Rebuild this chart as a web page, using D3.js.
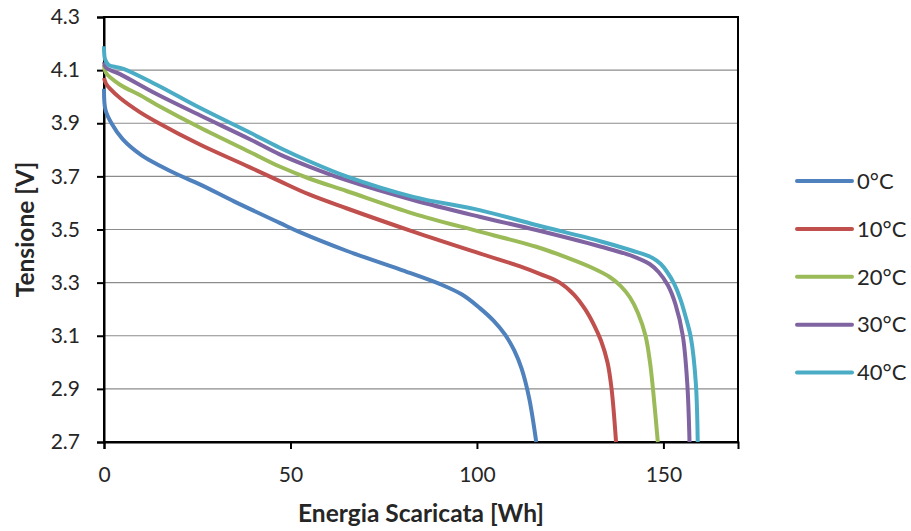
<!DOCTYPE html>
<html>
<head>
<meta charset="utf-8">
<script src="https://cdn.jsdelivr.net/npm/d3@7"></script>
<style>
  body { margin: 0; background: #fff; }
  svg { font-family: Lato, "Open Sans", sans-serif; }
</style>
</head>
<body>
<svg width="911" height="531"></svg>
<script>
// tick labels
const xTicks = [0, 50, 100, 150];
const yTicks = [2.7, 2.9, 3.1, 3.3, 3.5, 3.7, 3.9, 4.1, 4.3];

// series: [energy Wh, voltage V]
const names = ['0°C', '10°C', '20°C', '30°C', '40°C'];
const colors = ['#4f81bd', '#c0504d', '#9bbb59', '#8064a2', '#4bacc6'];

const t0 = [
  [0, 4.03], [0.4, 3.95], [2, 3.90], [5, 3.84], [10, 3.78], [15, 3.74],
  [20, 3.705], [25.7, 3.67], [35, 3.605], [47.1, 3.525], [52.5, 3.49],
  [65, 3.42], [79.3, 3.35], [90, 3.295], [96, 3.255], [100.7, 3.205],
  [104.5, 3.156], [107.5, 3.105], [110, 3.045], [112, 2.975], [114, 2.865],
  [115.9, 2.70],
];
const t10 = [
  [0, 4.07], [0.5, 4.05], [1.6, 4.03], [4.3, 3.995], [9.6, 3.942], [14.1, 3.905],
  [25.7, 3.82], [39, 3.735], [47.1, 3.682], [55, 3.632], [65, 3.58], [82.9, 3.492],
  [100.7, 3.41], [111.4, 3.362], [117, 3.332], [122.2, 3.30], [126, 3.255],
  [129, 3.20], [131.4, 3.14], [133.3, 3.08], [135, 3.0], [136.1, 2.90],
  [137.3, 2.70],
];
const t20 = [
  [0, 4.12], [0.5, 4.09], [4.3, 4.045], [9.6, 4.006], [14.1, 3.97], [25.7, 3.884],
  [39.1, 3.792], [47.1, 3.737], [55, 3.692], [65, 3.645], [82.9, 3.56],
  [100.7, 3.492], [115.9, 3.435], [124, 3.395], [131, 3.355], [135.5, 3.322],
  [138.5, 3.288], [141, 3.245], [143.2, 3.185], [145.2, 3.10], [146.4, 3.0],
  [147.2, 2.90], [148.5, 2.70],
];
const t30 = [
  [0, 4.13], [0.5, 4.11], [4.3, 4.085], [14.1, 4.01], [25.7, 3.93], [39.1, 3.84],
  [47.1, 3.783], [55, 3.737], [65, 3.686], [82.9, 3.611], [100.7, 3.548],
  [115.9, 3.498], [133.3, 3.435], [141.7, 3.40], [146.3, 3.37], [148.7, 3.34],
  [151.2, 3.29], [153.2, 3.22], [155.2, 3.10], [156.4, 2.92], [157, 2.70],
];
const t40 = [
  [0, 4.19], [0.3, 4.14], [1.2, 4.12], [5.2, 4.105], [14.1, 4.045], [25.7, 3.958],
  [39.1, 3.865], [47.1, 3.808], [55, 3.757], [65, 3.70], [82.9, 3.623],
  [100.7, 3.573], [115.9, 3.517], [133.3, 3.455], [141.7, 3.42], [147.1, 3.393],
  [149.3, 3.37], [151, 3.34], [152.9, 3.295], [154.5, 3.24], [156, 3.17],
  [157.4, 3.09], [158.7, 2.92], [159.2, 2.70],
];
const series = [t0, t10, t20, t30, t40];

const svg = d3.select('svg');
const plotLeft = 104, plotRight = 738, plotTop = 17, plotBottom = 442;

const xScale = d3.scaleLinear().domain([0, 170]).range([plotLeft, plotRight]);
const yScale = d3.scaleLinear().domain([2.7, 4.3]).range([plotBottom, plotTop]);

// gridlines
svg.append('g')
  .selectAll('line')
  .data(yTicks.filter(d => d > 2.7 && d < 4.3))
  .join('line')
    .attr('x1', plotLeft).attr('x2', plotRight)
    .attr('y1', d => yScale(d)).attr('y2', d => yScale(d))
    .attr('stroke', '#8c8c8c')
    .attr('stroke-width', 1.2);

// frame
svg.append('rect')
  .attr('x', plotLeft).attr('y', plotTop)
  .attr('width', plotRight - plotLeft).attr('height', plotBottom - plotTop)
  .attr('fill', 'none')
  .attr('stroke', '#000')
  .attr('stroke-width', 2);

// axes
const yAxis = d3.axisLeft(yScale)
  .tickValues(yTicks)
  .tickFormat(d3.format('.1f'))
  .tickSize(7)
  .tickPadding(17);
const xAxis = d3.axisBottom(xScale)
  .tickValues(xTicks)
  .tickFormat(d3.format('d'))
  .tickSize(7)
  .tickPadding(18);

svg.append('g')
  .attr('transform', `translate(${plotLeft},0)`)
  .call(yAxis)
  .call(g => g.select('.domain').attr('stroke-width', 2))
  .call(g => g.selectAll('.tick line').attr('stroke-width', 2))
  .call(g => g.selectAll('.tick text')
    .attr('font-size', 21).attr('fill', '#262626'));

svg.append('g')
  .attr('transform', `translate(0,${plotBottom})`)
  .call(xAxis)
  .call(g => g.select('.domain').attr('stroke-width', 2))
  .call(g => g.selectAll('.tick line').attr('stroke-width', 2))
  .call(g => g.selectAll('.tick text')
    .attr('font-size', 21).attr('fill', '#262626'));

svg.selectAll('g').attr('font-family', null);

// axis titles
svg.append('text')
  .attr('x', (plotLeft + plotRight) / 2)
  .attr('y', 522)
  .attr('text-anchor', 'middle')
  .attr('font-size', 24.5)
  .attr('font-weight', 'bold')
  .attr('fill', '#262626')
  .text('Energia Scaricata [Wh]');

svg.append('text')
  .attr('transform', `translate(34,${(plotTop + plotBottom) / 2}) rotate(-90)`)
  .attr('text-anchor', 'middle')
  .attr('font-size', 24.5)
  .attr('font-weight', 'bold')
  .attr('fill', '#262626')
  .text('Tensione [V]');

// lines
const line = d3.line()
  .x(d => xScale(d[0]))
  .y(d => yScale(d[1]))
  .curve(d3.curveCatmullRom.alpha(0.5));

svg.append('g')
  .selectAll('path')
  .data(series)
  .join('path')
    .attr('d', line)
    .attr('fill', 'none')
    .attr('stroke', (d, i) => colors[i])
    .attr('stroke-width', 4)
    .attr('stroke-linejoin', 'round');

// legend
const legend = svg.append('g')
  .selectAll('g')
  .data(names)
  .join('g')
    .attr('transform', (d, i) => `translate(797,${181 + i * 47.9})`);

legend.append('line')
  .attr('x1', 0).attr('x2', 55)
  .attr('stroke', (d, i) => colors[i])
  .attr('stroke-width', 4)
  .attr('stroke-linecap', 'round');

legend.append('text')
  .attr('x', 60)
  .attr('dy', '0.35em')
  .attr('font-size', 22)
  .attr('fill', '#262626')
  .text(d => d);
</script>
</body>
</html>
